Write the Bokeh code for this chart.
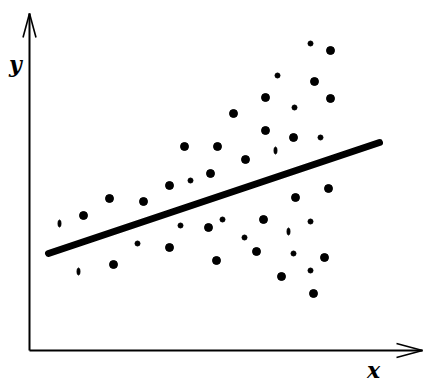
from bokeh.plotting import figure
from bokeh.models import Range1d
from bokeh.core.properties import value
from bokeh.embed import file_html
from bokeh.resources import INLINE

# Scatter data (arbitrary units)
big_x = [5.4, 8.0, 8.4, 11.4, 14.0, 14.0, 15.5, 17.9, 18.1, 18.7, 18.8, 20.4, 21.6, 22.7, 23.4,
         23.6, 23.6, 25.2, 26.4, 26.6, 28.4, 28.5, 29.5, 29.9, 30.1, 30.1]
big_y = [13.5, 15.2, 8.6, 14.9, 16.5, 10.3, 20.4, 12.3, 17.7, 9.0, 20.4, 23.7, 19.1, 9.9, 13.1,
         25.3, 22.0, 7.4, 21.3, 15.3, 5.7, 26.9, 9.3, 16.2, 30.0, 25.2]

small_x = [10.8, 15.1, 16.1, 19.3, 21.5, 24.8, 26.4, 26.5, 28.1, 28.1, 28.1, 29.1]
small_y = [10.7, 12.5, 17.0, 13.1, 11.3, 27.5, 9.7, 24.3, 30.7, 12.9, 8.0, 21.3]

tall_x = [3.0, 4.9, 24.6, 25.9]
tall_y = [12.7, 7.9, 20.0, 11.9]

# Regression line
line_x = [1.9, 35.0]
line_y = [9.7, 20.8]

# Axes extents
x_axis_end = 39.3
y_axis_end = 33.7

p = figure(width=430, height=382, output_backend="svg", toolbar_location=None,
           x_range=Range1d(-2.9, 40.1), y_range=Range1d(-3.2, 35.0),
           min_border=0)
p.axis.visible = False
p.grid.visible = False
p.outline_line_color = None
p.background_fill_color = "white"
p.border_fill_color = "white"

# Axes lines
p.segment(x0=[0, 0], y0=[0, 0], x1=[x_axis_end, 0], y1=[0, y_axis_end],
          line_color="black", line_width=2)

# Arrowheads (open, narrow)
hl_x, hw_x = 2.6, 0.7   # x-axis head: length (x units), half width (y units)
hl_y, hw_y = 2.4, 0.65  # y-axis head: length (y units), half width (x units)
p.segment(x0=[x_axis_end - hl_x, x_axis_end - hl_x, -hw_y, hw_y],
          y0=[hw_x, -hw_x, y_axis_end - hl_y, y_axis_end - hl_y],
          x1=[x_axis_end, x_axis_end, 0, 0],
          y1=[0, 0, y_axis_end, y_axis_end],
          line_color="black", line_width=1.6)

# Regression line
p.line(line_x, line_y, line_color="black", line_width=7, line_cap="round")

# Points
p.scatter(big_x, big_y, size=8, marker="circle", fill_color="black", line_color="black")
p.scatter(small_x, small_y, size=5, marker="circle", fill_color="black", line_color="black")
p.ellipse(tall_x, tall_y, width=3, height=7, width_units="screen", height_units="screen",
          fill_color="black", line_color="black")

# Axis labels
p.text(x=[-1.4], y=[28.7], text=["y"], text_font=value("DejaVu Serif"),
       text_font_style="bold italic", text_font_size="22px",
       text_align="center", text_baseline="middle", text_color="black")
p.text(x=[34.4], y=[-1.9], text=["x"], text_font=value("DejaVu Serif"),
       text_font_style="bold italic", text_font_size="22px",
       text_align="center", text_baseline="middle", text_color="black")

open("out.html", "w").write(file_html(p, INLINE))
